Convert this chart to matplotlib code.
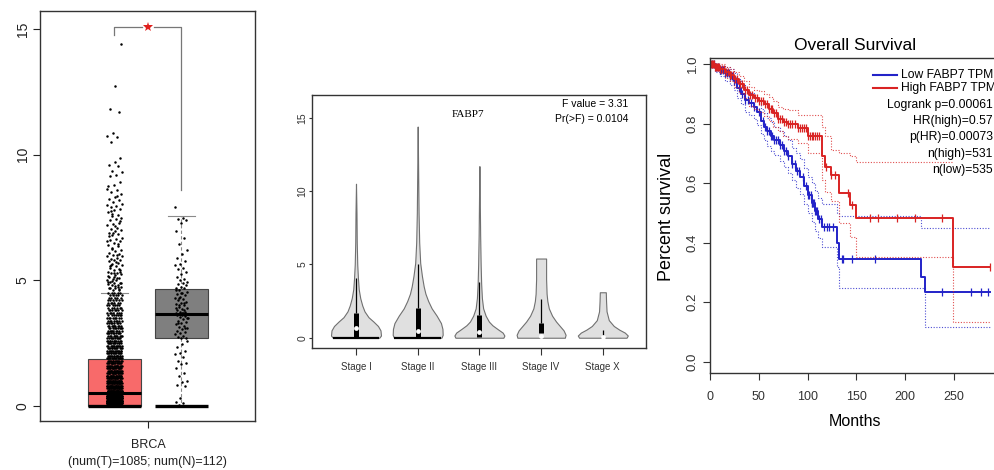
import numpy as np
import matplotlib.pyplot as plt
from matplotlib.lines import Line2D

plt.rcParams['font.family'] = ['Liberation Sans', 'DejaVu Sans']

W, H = 995, 470

# ---------------- panel 1: BRCA boxplot ----------------
group_pos = [0.75, 1.25]
group_colors = ['#F86A6A', '#7F7F7F']
tumor_stats = dict(med=0.5, q1=0.0, q3=1.85, whislo=0.0, whishi=4.5)
normal_stats = dict(med=3.65, q1=2.7, q3=4.65, whislo=0.0, whishi=7.55)

# tumor points: dense part as (level, count), sparse outliers listed
tumor_levels = [0.0, 0.1, 0.2, 0.3, 0.4, 0.5, 0.6, 0.7, 0.8, 0.9, 1.0, 1.1, 1.2,
                1.3, 1.4, 1.5, 1.6, 1.7, 1.8, 1.9, 2.0, 2.1, 2.2, 2.3, 2.4, 2.5,
                2.6, 2.7, 2.8, 2.9, 3.0, 3.1, 3.2, 3.3, 3.4, 3.5, 3.6, 3.7, 3.8,
                3.9, 4.0, 4.1, 4.2, 4.3, 4.4, 4.5]
tumor_counts = [170, 75, 70, 66, 62, 58, 28, 26, 24, 22, 21, 20, 19, 18, 17, 16,
                15, 14, 13, 14, 14, 13, 13, 12, 12, 11, 11, 10, 10, 10, 9, 9, 9,
                8, 8, 8, 7, 7, 7, 6, 6, 6, 6, 5, 5, 5]
tumor_outliers = [14.4, 12.75, 11.8, 11.7, 10.85, 10.75, 10.7, 10.5, 9.85, 9.7,
                  9.6, 9.55, 9.35, 9.3, 9.2, 9.15, 8.9, 8.8, 8.75, 8.6, 8.5, 8.45,
                  8.3, 8.25, 8.2, 8.1, 8.0, 7.95, 7.9, 7.85, 7.8, 7.7, 7.6, 7.55,
                  7.5, 7.45, 7.4, 7.3, 7.25, 7.2, 7.1, 7.05, 7.0, 6.95, 6.9, 6.85,
                  6.8, 6.7, 6.65, 6.6, 6.55, 6.5, 6.4, 6.35, 6.3, 6.2, 6.15, 6.1,
                  6.05, 6.0, 5.95, 5.9, 5.85, 5.8, 5.8, 5.75, 5.7, 5.65, 5.6, 5.55,
                  5.5, 5.45, 5.4, 5.35, 5.3, 5.3, 5.25, 5.2, 5.15, 5.1, 5.05, 5.0,
                  5.0, 4.95, 4.9, 4.9, 4.85, 4.8, 4.8, 4.75, 4.7, 4.7, 4.65, 4.6,
                  8.65, 8.35, 7.75, 7.35, 7.15, 6.75, 6.45, 6.25, 5.98, 5.72, 5.58,
                  5.42, 5.28, 5.18, 5.08, 4.98, 4.88, 4.78, 4.68, 4.62, 6.88, 6.58,
                  6.02, 5.62, 5.32, 5.12, 4.92, 4.72, 7.65, 8.05]
normal_values = [7.9, 7.5, 7.45, 7.4, 7.3, 6.95, 6.7, 6.45, 6.2, 6.05, 5.9, 5.75,
                 5.65, 5.6, 5.5, 5.45, 5.35, 5.25, 5.15, 5.05, 5.0, 4.95, 4.9,
                 4.85, 4.8, 4.75, 4.7, 4.68, 4.6, 4.55, 4.5, 4.45, 4.4, 4.35, 4.3,
                 4.25, 4.2, 4.15, 4.1, 4.05, 4.0, 3.95, 3.9, 3.85, 3.8, 3.75, 3.72,
                 3.7, 3.68, 3.66, 3.65, 3.63, 3.6, 3.58, 3.55, 3.5, 3.45, 3.4, 3.35,
                 3.3, 3.25, 3.2, 3.15, 3.1, 3.05, 3.0, 2.95, 2.9, 2.85, 2.8, 2.75,
                 2.72, 2.7, 3.9, 4.1, 4.3, 3.5, 3.7, 3.3, 3.1, 4.5, 4.6, 3.8, 4.0,
                 2.6, 2.45, 2.35, 2.2, 2.1, 2.05, 1.95, 1.8, 1.7, 1.65, 1.5, 1.3,
                 1.2, 1.0, 0.95, 0.85, 0.8, 0.3, 0.15, 0.1, 0.05, 0.0, 0.0, 0.0,
                 0.0, 0.0, 0.0, 0.0]
sig_y = 15.08
sig_left_end = 14.76
sig_right_end = 8.6

# ---------------- panel 2: violins by stage ----------------
stages = ['Stage I', 'Stage II', 'Stage III', 'Stage IV', 'Stage X']
violin_levels = [
    [0, 0.15, 0.5, 0.8, 1.1, 1.4, 1.8, 2.2, 2.7, 3.3, 4.0, 5.0, 6.5, 8.5, 10.5],
    [0, 0.2, 0.6, 1.0, 1.5, 2.0, 2.5, 3.0, 3.5, 4.2, 5.1, 6.5, 8.5, 11, 14.4],
    [0, 0.15, 0.35, 0.6, 0.85, 1.1, 1.5, 2.0, 2.7, 3.7, 5, 7, 9.5, 11.7],
    [0, 0.2, 0.5, 0.8, 1.1, 1.5, 2.0, 2.5, 3.0, 4.0, 5.4],
    [0, 0.15, 0.35, 0.55, 0.8, 1.2, 1.8, 2.5, 3.1],
]
violin_widths = [
    [0.93, 1.0, 0.98, 0.88, 0.7, 0.5, 0.34, 0.25, 0.17, 0.11, 0.08, 0.05, 0.03, 0.02, 0.0],
    [0.95, 1.0, 0.99, 0.93, 0.76, 0.56, 0.42, 0.31, 0.24, 0.17, 0.1, 0.06, 0.035, 0.02, 0.0],
    [0.96, 1.0, 0.93, 0.72, 0.52, 0.38, 0.25, 0.15, 0.1, 0.07, 0.05, 0.03, 0.015, 0.0],
    [0.95, 0.98, 0.9, 0.75, 0.6, 0.44, 0.31, 0.25, 0.22, 0.2, 0.2],
    [0.95, 1.0, 0.88, 0.66, 0.44, 0.24, 0.15, 0.13, 0.12],
]
stage_q1 = [0.0, 0.0, 0.05, 0.35, 0.0]
stage_q3 = [1.7, 2.05, 1.55, 1.0, 0.08]
stage_med = [0.65, 0.45, 0.4, 0.15, 0.05]
stage_whi = [4.05, 5.05, 3.8, 2.65, 0.5]
stage_zero_bar = [True, True, False, False, False]

# ---------------- panel 3: Kaplan-Meier ----------------
low_t = [0, 5, 10, 15, 20, 25, 28, 32, 36, 40, 45, 48, 52, 55, 58, 62, 66, 72, 76,
         80, 84, 88, 92, 96, 100, 104, 108, 111, 114.4, 129.8, 132.5, 216.5, 220, 287]
low_s = [1.0, 0.99, 0.98, 0.97, 0.96, 0.945, 0.92, 0.90, 0.88, 0.87, 0.855, 0.84,
         0.81, 0.79, 0.775, 0.76, 0.745, 0.729, 0.71, 0.69, 0.665, 0.64, 0.622, 0.59,
         0.56, 0.535, 0.505, 0.48, 0.454, 0.398, 0.345, 0.286, 0.233, 0.233]
low_hi = [1.0, 1.0, 0.995, 0.99, 0.985, 0.97, 0.95, 0.93, 0.915, 0.905, 0.89, 0.88,
          0.85, 0.835, 0.82, 0.805, 0.79, 0.775, 0.76, 0.745, 0.72, 0.70, 0.68, 0.65,
          0.62, 0.60, 0.575, 0.55, 0.53, 0.50, 0.49, 0.449, 0.449, 0.449]
low_lo = [1.0, 0.975, 0.96, 0.945, 0.93, 0.915, 0.885, 0.865, 0.84, 0.83, 0.815,
          0.795, 0.765, 0.745, 0.725, 0.71, 0.695, 0.675, 0.655, 0.635, 0.61, 0.585,
          0.565, 0.53, 0.5, 0.47, 0.44, 0.415, 0.385, 0.32, 0.247, 0.247, 0.118, 0.118]
high_t = [0, 5, 10, 15, 20, 25, 30, 35, 40, 45, 50, 55, 60, 65, 70, 75, 80, 90, 100,
          114.4, 118, 124, 132.5, 143.4, 149.6, 249.3, 287]
high_s = [1.0, 0.99, 0.985, 0.975, 0.965, 0.95, 0.935, 0.915, 0.895, 0.885, 0.875,
          0.865, 0.85, 0.835, 0.815, 0.805, 0.80, 0.785, 0.76, 0.69, 0.656, 0.628,
          0.566, 0.527, 0.482, 0.32, 0.32]
high_hi = [1.0, 1.0, 1.0, 0.99, 0.985, 0.975, 0.96, 0.945, 0.925, 0.915, 0.91, 0.9,
           0.89, 0.875, 0.857, 0.85, 0.845, 0.83, 0.83, 0.79, 0.76, 0.712, 0.70,
           0.69, 0.673, np.nan, np.nan]
high_lo = [1.0, 0.98, 0.97, 0.955, 0.945, 0.925, 0.905, 0.885, 0.86, 0.85, 0.84,
           0.825, 0.81, 0.79, 0.775, 0.76, 0.75, 0.735, 0.70, 0.61, 0.57, 0.54, 0.465,
           0.42, 0.353, 0.135, 0.135]
low_cens = [2, 4, 6, 8, 10, 11, 13, 15, 17, 19, 21, 23, 25, 27, 30, 33, 36, 39, 42,
            45, 50, 54, 56, 58, 60, 62, 64, 66, 68, 70, 72, 74, 76, 78, 80, 84, 87,
            89, 91, 95, 98, 100, 101, 103, 104, 105, 106, 107, 108, 109, 110, 112,
            114, 117, 120, 122, 126, 135, 136.6, 145, 169, 238, 267, 278, 285]
high_cens = [1, 2, 3, 4, 5, 6, 7, 8, 9, 10, 12, 14, 16, 18, 20, 22, 24, 26, 28, 31,
             33, 36, 38, 41, 43, 46, 48, 50, 52, 54, 56, 58, 60, 62, 64, 66, 68, 70,
             72, 74, 76, 78, 80, 82, 84, 87, 90, 92, 94, 96, 98, 100, 102, 104, 106,
             108, 110, 112, 119, 124, 128, 141.7, 146, 164, 172.5, 192, 210, 237.4,
             287]
km_labels = ['Low FABP7 TPM', 'High FABP7 TPM']
km_colors = ['#2323C8', '#D92323']
stats_lines = ['Logrank p=0.00061', 'HR(high)=0.57', 'p(HR)=0.00073',
               'n(high)=531', 'n(low)=535']


def fx(px):
    return px / W


def fy(py):
    return 1 - py / H


def box_spines(ax):
    for s in ax.spines.values():
        s.set_color('#333333')
        s.set_linewidth(1.0)


fig = plt.figure(figsize=(W / 100, H / 100), dpi=100)

# ===== panel 1 =====
ax1 = fig.add_axes([fx(40), fy(421), fx(215), 410 / H])
bp = ax1.bxp([tumor_stats, normal_stats], positions=group_pos, widths=0.4,
             patch_artist=True, showfliers=False, capwidths=0.2,
             boxprops=dict(edgecolor='#444444', linewidth=0.8),
             medianprops=dict(color='black', linewidth=2.2),
             whiskerprops=dict(color='#8A8A8A', linestyle=(0, (3, 2)), linewidth=0.8),
             capprops=dict(color='#8A8A8A', linewidth=0.8))
for patch, c in zip(bp['boxes'], group_colors):
    patch.set_facecolor(c)
    patch.set_zorder(2)

ty = np.repeat(tumor_levels, tumor_counts)
ty = np.concatenate([ty, tumor_outliers])
tx = group_pos[0] + ((np.arange(len(ty)) * 0.6180339887) % 1 - 0.5) * 0.115
ax1.scatter(tx, ty, s=3.2, color='black', linewidths=0, zorder=3)
ny = np.array(normal_values)
nx = group_pos[1] + ((np.arange(len(ny)) * 0.6180339887) % 1 - 0.5) * 0.095
ax1.scatter(nx, ny, s=3.2, color='black', linewidths=0, zorder=3)
ax1.hlines([0, 0], [p - 0.2 for p in group_pos], [p + 0.2 for p in group_pos],
           color='black', linewidth=2.4, zorder=4)

mid = np.mean(group_pos)
ax1.plot([group_pos[0], group_pos[0], mid - 0.045], [sig_left_end, sig_y, sig_y],
         color='#777777', lw=0.9)
ax1.plot([mid + 0.045, group_pos[1], group_pos[1]], [sig_y, sig_y, sig_right_end],
         color='#777777', lw=0.9)
ax1.plot(mid, sig_y, marker='*', color='#E0201E', markersize=7, markeredgewidth=0)

ax1.set_xlim(0.194, 1.80)
ax1.set_ylim(-0.6, 15.72)
ax1.set_yticks([0, 5, 10, 15])
ax1.set_xticks([1])
ax1.set_xticklabels(['BRCA\n(num(T)=1085; num(N)=112)'], fontsize=9, linespacing=1.5)
ax1.tick_params(axis='y', length=5, pad=2.5, labelsize=10, colors='#222222')
ax1.tick_params(axis='x', length=5, pad=8, colors='#222222')
plt.setp(ax1.get_yticklabels(), rotation=90, va='center')
box_spines(ax1)

# ===== panel 2 =====
ax2 = fig.add_axes([fx(312), fy(348), fx(334), 253 / H])
half = 0.405
for i in range(len(stages)):
    pos = i + 1
    lv = np.array(violin_levels[i])
    w = np.array(violin_widths[i]) * half
    ax2.fill_betweenx(lv, pos - w, pos + w, facecolor='#E0E0E0',
                      edgecolor='#707070', linewidth=0.8, zorder=2)
    if stage_zero_bar[i]:
        ax2.hlines(0, pos - w[0], pos + w[0], color='black', linewidth=1.6, zorder=3)
    ax2.vlines(pos, stage_q3[i], stage_whi[i], color='black', linewidth=0.9, zorder=3)
    ax2.vlines(pos, stage_q1[i], stage_q3[i], color='black', linewidth=3.6, zorder=3)
    ax2.scatter(pos, stage_med[i], s=12, color='white', linewidths=0, zorder=4)
ax2.set_xlim(0.287, 5.70)
ax2.set_ylim(-0.70, 16.55)
ax2.set_xticks(range(1, len(stages) + 1))
ax2.set_xticklabels(stages)
ax2.set_yticks([0, 5, 10, 15])
ax2.tick_params(axis='both', labelsize=7, colors='#333333')
ax2.tick_params(axis='x', length=5, pad=5)
ax2.tick_params(axis='y', length=2.5, pad=1, labelsize=7.5)
plt.setp(ax2.get_yticklabels(), rotation=90, va='center')
box_spines(ax2)
ax2.text(0.467, 0.921, 'FABP7', transform=ax2.transAxes, ha='center', va='center',
         fontsize=8, family=['Liberation Serif', 'DejaVu Serif'])
ax2.text(0.946, 0.964, 'F value = 3.31', transform=ax2.transAxes, ha='right',
         va='center', fontsize=7.5)
ax2.text(0.946, 0.905, 'Pr(>F) = 0.0104', transform=ax2.transAxes, ha='right',
         va='center', fontsize=7.5)

# ===== panel 3 =====
ax3 = fig.add_axes([fx(710), fy(373), fx(293), 315 / H])
for t, s, hi, lo, cens, c in [(low_t, low_s, low_hi, low_lo, low_cens, km_colors[0]),
                              (high_t, high_s, high_hi, high_lo, high_cens, km_colors[1])]:
    ax3.step(t, hi, where='post', color=c, lw=0.8, ls=(0, (1, 1.5)), alpha=0.8)
    ax3.step(t, lo, where='post', color=c, lw=0.8, ls=(0, (1, 1.5)), alpha=0.8)
    ax3.step(t, s, where='post', color=c, lw=1.4)
    idx = np.searchsorted(t, cens, side='right') - 1
    ax3.plot(cens, np.array(s)[idx], ls='none', marker='|', color=c,
             markersize=6, markeredgewidth=0.9)
ax3.set_xlim(0, 300.2)
ax3.set_ylim(-0.038, 1.021)
ax3.set_xticks([0, 50, 100, 150, 200, 250])
ax3.set_yticks([0.0, 0.2, 0.4, 0.6, 0.8, 1.0])
ax3.set_yticklabels(['0.0', '0.2', '0.4', '0.6', '0.8', '1.0'])
ax3.tick_params(axis='both', length=5, labelsize=9, colors='#333333')
ax3.tick_params(axis='x', pad=8)
ax3.tick_params(axis='y', pad=3, labelsize=9.5)
plt.setp(ax3.get_yticklabels(), rotation=90, va='center')
box_spines(ax3)

fig.text(fx(855), fy(45), 'Overall Survival', ha='center', va='center', fontsize=12.5)
fig.text(fx(855), fy(422), 'Months', ha='center', va='center', fontsize=11.5)
fig.text(fx(667), fy(217), 'Percent survival', ha='center', va='center',
         rotation=90, fontsize=13)

legend_y = [75, 87.5]
for lab, c, y in zip(km_labels, km_colors, legend_y):
    fig.add_artist(Line2D([fx(873), fx(897)], [fy(y), fy(y)], color=c, lw=1.5))
    fig.text(fx(901), fy(y), lab, ha='left', va='center', fontsize=8.7)
stats_y = [105, 121, 137.3, 154, 170]
for line, y in zip(stats_lines, stats_y):
    fig.text(fx(993), fy(y), line, ha='right', va='center', fontsize=8.7)

fig.savefig('out.png', dpi=100)
